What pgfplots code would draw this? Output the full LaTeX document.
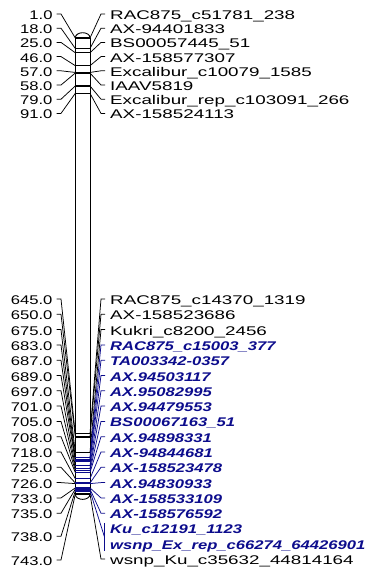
\documentclass[border=0pt]{standalone}
\usepackage{fontspec}
\setmainfont{Liberation Sans}[FakeStretch=1.32]
\usepackage{pgfplots}
\usepackage{pgfplotstable}
\pgfplotsset{compat=1.18}
\definecolor{mapblue}{RGB}{12,12,140}

% loci (cM) and the row (px from top) where their label sits
\pgfplotstableread{
cM slot
1 15
18 29.2
25 43.4
46 57.6
57 71.8
58 86
79 100.2
91 114.4
645 300
650 315.3
675 330.6
683 345.9
687 361.2
689 376.5
697 391.8
701 407.1
705 422.4
708 437.7
718 453
725 468.3
726 483.6
733 498.9
735 514.2
738 537.2
743 561
}\loci

% markers: name, position (cM), label row, colour group, bracketed
\pgfplotstableread{
name cM slot col br
RAC875\_c51781\_238 1 15 0 0
AX-94401833 18 29.2 0 0
BS00057445\_51 25 43.4 0 0
AX-158577307 46 57.6 0 0
Excalibur\_c10079\_1585 57 71.8 0 0
IAAV5819 58 86 0 0
Excalibur\_rep\_c103091\_266 79 100.2 0 0
AX-158524113 91 114.4 0 0
RAC875\_c14370\_1319 645 300 0 0
AX-158523686 650 315.3 0 0
Kukri\_c8200\_2456 675 330.6 0 0
RAC875\_c15003\_377 683 345.9 1 0
TA003342-0357 687 361.2 1 0
AX.94503117 689 376.5 1 0
AX.95082995 697 391.8 1 0
AX.94479553 701 407.1 1 0
BS00067163\_51 705 422.4 1 0
AX.94898331 708 437.7 1 0
AX-94844681 718 453 1 0
AX-158523478 725 468.3 1 0
AX.94830933 726 483.6 1 0
AX-158533109 733 498.9 1 0
AX-158576592 735 514.2 1 0
Ku\_c12191\_1123 738 529.5 1 1
wsnp\_Ex\_rep\_c66274\_64426901 738 544.8 1 1
wsnp\_Ku\_c35632\_44814164 743 560.1 0 0
}\markers

\tikzset{
  leader/.style={line width=0.75pt},
  mline/.style={line width=1.3pt},
  lab/.style={inner sep=0pt, font=\fontsize{12.6}{15}\selectfont},
}

\begin{document}
\begin{tikzpicture}
\begin{axis}[
  scale only axis, width=370pt, height=572pt,
  xmin=0, xmax=370, ymin=-60.85, ymax=869.85, y dir=reverse,
  hide axis, clip=false,
]
\path (rel axis cs:0,0) rectangle (rel axis cs:1,1);

% chromosome body and its rounded ends
\addplot[draw=black, fill=white, line width=0.9pt] coordinates {(75.3,1) (75.3,743) (90,743) (90,1) (75.3,1)};
\draw[fill=white, line width=0.9pt] (axis cs:75.3,1) .. controls (axis cs:75.3,-10.5) and (axis cs:90,-10.5) .. (axis cs:90,1);
\draw[fill=white, line width=0.9pt] (axis cs:75.3,743) .. controls (axis cs:75.3,754.5) and (axis cs:90,754.5) .. (axis cs:90,743);

% left leaders: label row -> locus on the chromosome
\pgfplotsforeachungrouped \i in {0,...,24}{%
  \pgfplotstablegetelem{\i}{cM}\of\loci \let\lc\pgfplotsretval
  \pgfplotstablegetelem{\i}{slot}\of\loci
  \pgfmathsetmacro\ls{(\pgfplotsretval-1-37.4)/0.6146}%
  \edef\tmp{\noexpand\addplot[leader,black] coordinates {(56.5,\ls) (61,\ls) (75.3,\lc)};}\tmp
}

% marker bands and right leaders
\pgfplotsforeachungrouped \i in {0,...,25}{%
  \pgfplotstablegetelem{\i}{cM}\of\markers \let\mc\pgfplotsretval
  \pgfplotstablegetelem{\i}{slot}\of\markers
  \pgfmathsetmacro\ms{(\pgfplotsretval-1-37.4)/0.6146}%
  \pgfplotstablegetelem{\i}{col}\of\markers
  \ifnum\pgfplotsretval=1 \def\mcolr{mapblue}\else\def\mcolr{black}\fi
  \pgfplotstablegetelem{\i}{br}\of\markers
  \ifnum\pgfplotsretval=0
    \edef\tmp{\noexpand\addplot[leader,\mcolr] coordinates {(90,\mc) (101,\ms) (105,\ms)};}\tmp
  \fi
  \edef\tmp{\noexpand\addplot[mline,\mcolr] coordinates {(75.3,\mc) (90,\mc)};}\tmp
}

% two markers sharing 738 cM: one leader into a bracket
\addplot[leader,mapblue] coordinates {(90,738) (104.5,812.9)};
\addplot[leader,mapblue] coordinates {(104.5,790.1) (104.5,835.7)};

% locus labels
\addplot[draw=none, mark=none, point meta=explicit,
  nodes near coords={\pgfmathprintnumber[fixed,fixed zerofill,precision=1,assume math mode=true]{\pgfplotspointmeta}},
  nodes near coords style={lab, anchor=base east}]
  table[x expr=52.7, y expr={(\thisrow{slot}+4.5-37.4)/0.6146}, meta=cM]{\loci};

% marker names, black group
\addplot[draw=none, mark=none, point meta=explicit symbolic,
  skip coords between index={11}{25},
  nodes near coords={\scalebox{1.13}[1]{\pgfplotspointmeta}},
  nodes near coords style={lab, anchor=base west, text=black}]
  table[x expr=110, y expr={(\thisrow{slot}+4.5-37.4)/0.6146}, meta=name]{\markers};
% marker names, blue group
\addplot[draw=none, mark=none, point meta=explicit symbolic,
  skip coords between index={0}{11}, skip coords between index={25}{26},
  nodes near coords={\bfseries\itshape\pgfplotspointmeta},
  nodes near coords style={lab, anchor=base west, text=mapblue}]
  table[x expr=110, y expr={(\thisrow{slot}+4.5-37.4)/0.6146}, meta=name]{\markers};
\end{axis}
\end{tikzpicture}
\end{document}
